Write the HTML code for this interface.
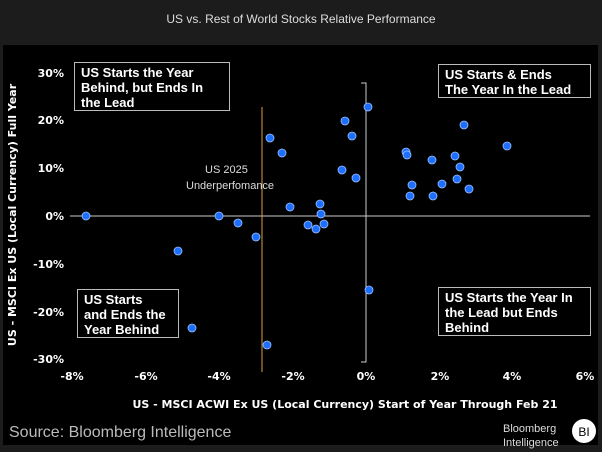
<!DOCTYPE html>
<html><head><meta charset="utf-8"><style>
body{margin:0;width:602px;height:452px;background:#1c1c1c;overflow:hidden;font-family:"DejaVu Sans","Liberation Sans",sans-serif}
.t{position:absolute;color:#fff}
.box{position:absolute;border:1px solid #bbb;background:#000;color:#fff;font-weight:bold;font-size:13px;line-height:15px;padding:2px 6px;box-sizing:border-box;white-space:nowrap;font-family:"Liberation Sans",sans-serif}
</style></head><body>
<div class="t" style="left:0;width:602px;top:12px;text-align:center;font-size:12px;color:#ddd;font-family:'Liberation Sans',sans-serif">US vs. Rest of World Stocks Relative Performance</div>
<div style="position:absolute;left:3px;top:45px;width:595px;height:400px;background:#000"></div>
<svg style="position:absolute;left:0;top:0" width="602" height="452">
<line x1="70" y1="216" x2="590" y2="216" stroke="#ccc" stroke-width="1"/>
<polyline points="361,83 366,83 366,362 361,362" fill="none" stroke="#ccc" stroke-width="1"/>
<line x1="262" y1="107" x2="262" y2="372" stroke="#d9a040" stroke-width="1"/>
<g fill="#1f6fff" stroke="#9cc0ff" stroke-width="0.8">
<circle cx="86" cy="216" r="4"/><circle cx="178" cy="251" r="4"/><circle cx="192" cy="328" r="4"/><circle cx="219" cy="216" r="4"/><circle cx="238" cy="223" r="4"/><circle cx="256" cy="237" r="4"/><circle cx="267" cy="345" r="4"/><circle cx="270" cy="138" r="4"/><circle cx="282" cy="153" r="4"/><circle cx="290" cy="207" r="4"/><circle cx="308" cy="225" r="4"/><circle cx="316" cy="229" r="4"/><circle cx="320" cy="204" r="4"/><circle cx="321" cy="214" r="4"/><circle cx="324" cy="224" r="4"/><circle cx="342" cy="170" r="4"/><circle cx="345" cy="121" r="4"/><circle cx="352" cy="136" r="4"/><circle cx="356" cy="178" r="4"/><circle cx="368" cy="107" r="4"/><circle cx="369" cy="290" r="4"/><circle cx="406" cy="152" r="4"/><circle cx="407" cy="155" r="4"/><circle cx="410" cy="196" r="4"/><circle cx="412" cy="185" r="4"/><circle cx="432" cy="160" r="4"/><circle cx="433" cy="196" r="4"/><circle cx="442" cy="184" r="4"/><circle cx="455" cy="156" r="4"/><circle cx="457" cy="179" r="4"/><circle cx="460" cy="167" r="4"/><circle cx="464" cy="125" r="4"/><circle cx="469" cy="189" r="4"/><circle cx="507" cy="146" r="4"/>
</g>
<g fill="#fff" font-size="11" font-weight="bold" text-anchor="end" font-family="DejaVu Sans,sans-serif">
<text x="64" y="77">30%</text><text x="64" y="124">20%</text><text x="64" y="172">10%</text><text x="64" y="220">0%</text><text x="64" y="268">-10%</text><text x="64" y="316">-20%</text><text x="64" y="363">-30%</text>
</g>
<g fill="#fff" font-size="11" font-weight="bold" text-anchor="middle" font-family="DejaVu Sans,sans-serif">
<text x="72" y="380">-8%</text><text x="146" y="380">-6%</text><text x="219" y="380">-4%</text><text x="293" y="380">-2%</text><text x="366" y="380">0%</text><text x="440" y="380">2%</text><text x="512" y="380">4%</text><text x="585" y="380">6%</text>
<text x="345" y="408">US - MSCI ACWI Ex US (Local Currency) Start of Year Through Feb 21</text>
<text transform="translate(16,215) rotate(-90)">US - MSCI Ex US (Local Currency) Full Year</text>
</g>
<g fill="#ddd" font-size="11" font-family="Liberation Sans,sans-serif">
<text x="205" y="173">US 2025</text><text x="186" y="189">Underperfomance</text>
</g>
<text x="9" y="437" fill="#bbb" font-size="16" font-family="Liberation Sans,sans-serif">Source: Bloomberg Intelligence</text>
<text x="503" y="432" fill="#ddd" font-size="11" font-family="Liberation Sans,sans-serif">Bloomberg</text>
<text x="503" y="446" fill="#ddd" font-size="11" font-family="Liberation Sans,sans-serif">Intelligence</text>
<circle cx="584" cy="431" r="12" fill="#fff"/>
<text x="584" y="436" fill="#000" font-size="12" text-anchor="middle" font-family="Liberation Sans,sans-serif">BI</text>
</svg>
<div class="box" style="left:74px;top:62px;width:156px;height:49px">US Starts the Year<br>Behind, but Ends In<br>the Lead</div>
<div class="box" style="left:438px;top:64px;width:153px;height:34px">US Starts &amp; Ends<br>The Year In the Lead</div>
<div class="box" style="left:77px;top:289px;width:102px;height:49px">US Starts<br>and Ends the<br>Year Behind</div>
<div class="box" style="left:438px;top:287px;width:153px;height:49px">US Starts the Year In<br>the Lead but Ends<br>Behind</div>
</body></html>
